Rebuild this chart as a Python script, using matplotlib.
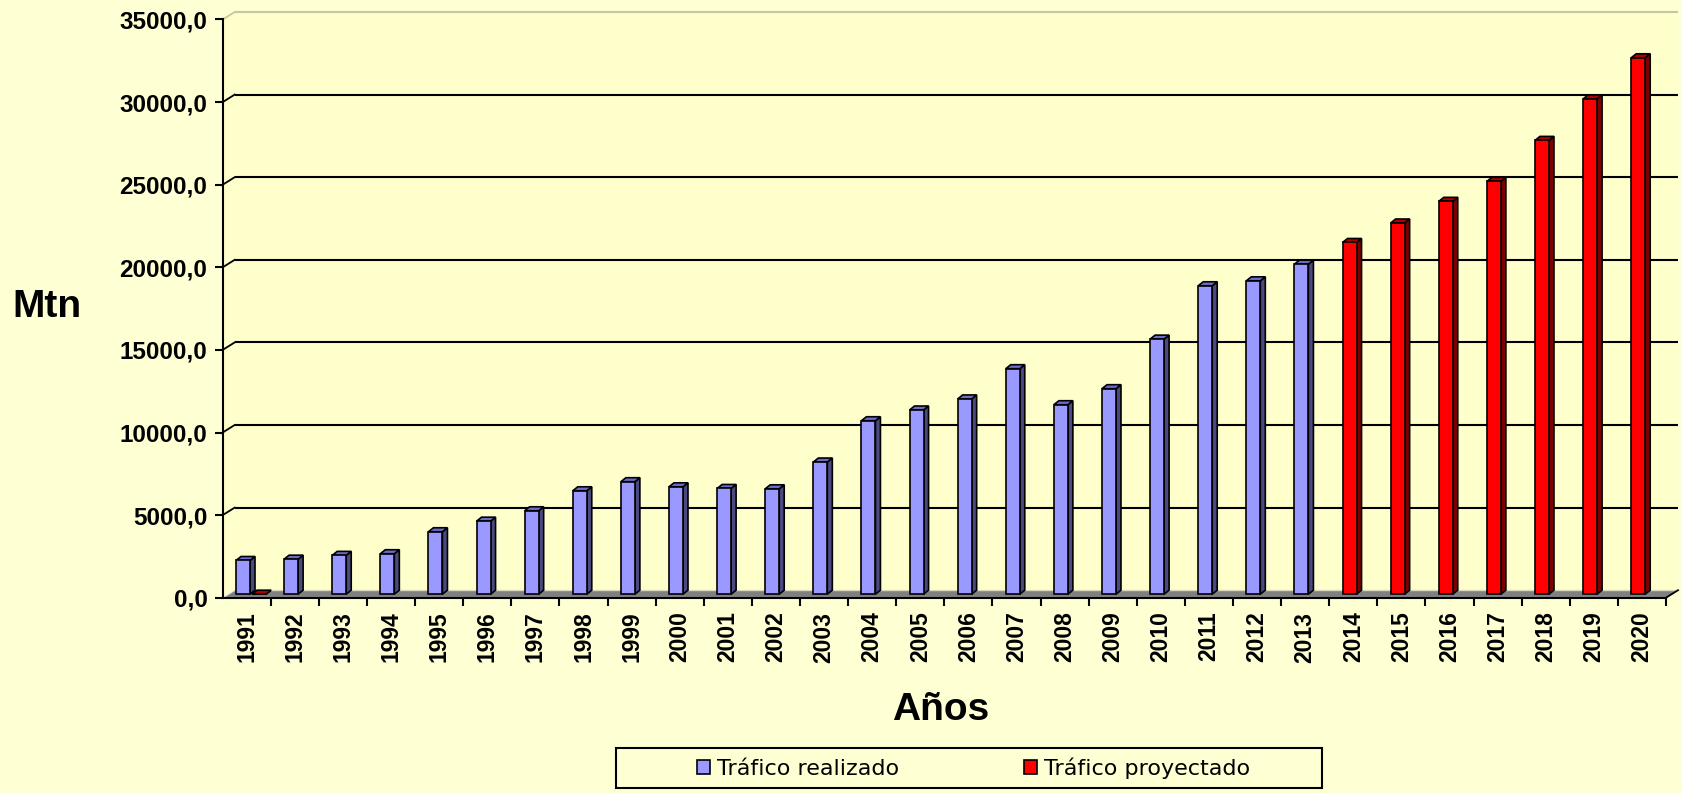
import matplotlib
matplotlib.use("Agg")
import matplotlib.pyplot as plt
import matplotlib.transforms as mtransforms
from matplotlib.patches import Polygon, Rectangle, Patch
from matplotlib.ticker import FixedLocator, FixedFormatter

# ---------------- data ----------------
years = [str(y) for y in range(1991, 2021)]
realizado_years = [str(y) for y in range(1991, 2014)]
realizado = [2040, 2120, 2350, 2450, 3780, 4420, 5050, 6260, 6810, 6500,
             6400, 6380, 8000, 10500, 11150, 11820, 13650, 11470, 12440,
             15440, 18670, 18970, 19980]
proyectado_years = ["1991", "2014", "2015", "2016", "2017", "2018", "2019", "2020"]
proyectado = [0, 21290, 22470, 23780, 24990, 27470, 29980, 32470]
y_ticks = [0, 5000, 10000, 15000, 20000, 25000, 30000, 35000]
y_tick_labels = ["0,0", "5000,0", "10000,0", "15000,0", "20000,0",
                 "25000,0", "30000,0", "35000,0"]
series_labels = ["Tráfico realizado", "Tráfico proyectado"]
x_title = "Años"
y_title = "Mtn"

# ---------------- style ----------------
W, H, DPI = 1682, 793, 100
BG = "#FFFFD4"
WALL = "#FFFFCC"
BLUE = ("#9999FF", "#6B6BCC", "#4A4A80")     # front, top, side
RED = ("#FF0000", "#B00000", "#800000")
FAM = ["Liberation Sans", "DejaVu Sans"]

fig = plt.figure(figsize=(W / DPI, H / DPI), dpi=DPI, facecolor=BG)
px_left, px_right, px_top, px_bot = 222.7, 1666.0, 19.5, 597.7
ax = fig.add_axes([px_left / W, 1 - px_bot / H, (px_right - px_left) / W,
                   (px_bot - px_top) / H])
ax.set_xlim(-0.5, len(years) - 0.5)
ax.set_ylim(0, 35000)
ax.patch.set_visible(False)

px_per_cat = (px_right - px_left) / len(years)
px_per_val = (px_bot - px_top) / 35000.0
DX = 12.0 / px_per_cat      # wall depth
DY = 7.5 / px_per_val
bdx = 5.0 / px_per_cat      # bar depth
bdy = 4.0 / px_per_val
bw = 14.0 / px_per_cat

x0, x1 = -0.5, len(years) - 0.5

# back wall + side wall
ax.add_patch(Polygon([(x0 + DX, DY), (x1 + DX, DY), (x1 + DX, 35000 + DY),
                      (x0 + DX, 35000 + DY)], closed=True, facecolor=WALL,
                     edgecolor="none", zorder=0, clip_on=False))
ax.add_patch(Polygon([(x0, 0), (x0 + DX, DY), (x0 + DX, 35000 + DY), (x0, 35000)],
                     closed=True, facecolor=WALL, edgecolor="none", zorder=0,
                     clip_on=False))

# gridlines on back wall with diagonal connectors
for v in y_ticks[1:]:
    col = "#C8C8A0" if v == y_ticks[-1] else "black"
    ax.plot([x0 + DX, x1 + DX], [v + DY, v + DY], color=col, lw=1.5,
            zorder=1, clip_on=False, solid_capstyle="butt")
    ax.plot([x0, x0 + DX], [v, v + DY], color=col, lw=1.3, zorder=1,
            clip_on=False)

# floor
ax.add_patch(Polygon([(x0, 0), (x1, 0), (x1 + DX, DY), (x0 + DX, DY)],
                     closed=True, facecolor="#808080", edgecolor="none",
                     zorder=1, clip_on=False))
ax.plot([x0 + DX, x1 + DX], [DY, DY], color="#D8D8C0", lw=1.0, zorder=1,
        clip_on=False)
ax.plot([x0, x0 + DX], [0, DY], color="#E8E8E8", lw=1.0, zorder=1, clip_on=False)
ax.plot([x1, x1 + DX], [0, DY], color="black", lw=1.3, zorder=3, clip_on=False)

# bars (mid-depth: shifted slightly up)
bar_trans = ax.transData + mtransforms.ScaledTranslation(0, 3.5 / DPI,
                                                         fig.dpi_scale_trans)


def draw_bar(xc, v, cols):
    a, b = xc - bw / 2, xc + bw / 2
    kw = dict(closed=True, edgecolor="black", lw=1.2, zorder=4,
              transform=bar_trans, clip_on=False, joinstyle="miter")
    ax.add_patch(Polygon([(b, 0), (b + bdx, bdy), (b + bdx, v + bdy), (b, v)],
                         facecolor=cols[2], **kw))
    ax.add_patch(Polygon([(a, v), (b, v), (b + bdx, v + bdy), (a + bdx, v + bdy)],
                         facecolor=cols[1], **kw))
    if v > 0:
        ax.bar([xc], [v], width=bw, facecolor=cols[0], edgecolor="black",
               lw=1.2, zorder=4, transform=bar_trans, clip_on=False)


for yr, v in zip(realizado_years, realizado):
    i = years.index(yr)
    draw_bar(i - 0.078, v, BLUE)
for yr, v in zip(proyectado_years, proyectado):
    i = years.index(yr)
    xc = i - 0.078 if v > 0 else i + 0.255
    draw_bar(xc, v, RED)

ax.set_xlim(-0.5, len(years) - 0.5)
ax.set_ylim(0, 35000)

# spines
for s in ["top", "right"]:
    ax.spines[s].set_visible(False)
for s in ["left", "bottom"]:
    ax.spines[s].set_linewidth(1.5)
    ax.spines[s].set_zorder(5)

# y axis
ax.yaxis.set_major_locator(FixedLocator(y_ticks))
ax.yaxis.set_major_formatter(FixedFormatter(y_tick_labels))
ax.tick_params(axis="y", direction="out", length=6, width=1.5, pad=5,
               labelsize=17.5)
for t in ax.get_yticklabels():
    t.set_fontfamily(FAM)
    t.set_fontweight("bold")

# x axis: ticks at boundaries, labels at centers
ax.xaxis.set_major_locator(FixedLocator([i + 0.5 for i in range(len(years))]))
ax.xaxis.set_major_formatter(FixedFormatter([""] * len(years)))
ax.xaxis.set_minor_locator(FixedLocator(list(range(len(years)))))
ax.xaxis.set_minor_formatter(FixedFormatter(years))
ax.tick_params(axis="x", which="major", direction="out", length=5.5, width=1.5)
ax.tick_params(axis="x", which="minor", length=0, pad=10, labelsize=16.5,
               labelrotation=90)
for t in ax.xaxis.get_minorticklabels():
    t.set_fontfamily(FAM)
    t.set_fontweight("bold")
    t.set_va("top")
    t.set_ha("center")

# titles
fig.text(47 / W, 1 - 307 / H, y_title, fontsize=28, fontweight="bold",
         family=FAM, ha="center", va="center")
fig.text(941 / W, 1 - 710 / H, x_title, fontsize=28, fontweight="bold",
         family=FAM, ha="center", va="center")

# legend box + legend
fig.patches.append(Rectangle((616 / W, 1 - 788 / H), (1321.7 - 616) / W,
                             40 / H, transform=fig.transFigure,
                             facecolor=BG, edgecolor="black", lw=1.5, zorder=0))
handles = [Patch(facecolor=BLUE[0], edgecolor="black", lw=1.2),
           Patch(facecolor=RED[0], edgecolor="black", lw=1.2)]
fig.legend(handles, series_labels, loc="center",
           bbox_to_anchor=(973.5 / W, 1 - 768 / H), ncol=2, frameon=False,
           prop={"family": ["DejaVu Sans"], "size": 16},
           handlelength=0.6, handleheight=0.55, handletextpad=0.3,
           columnspacing=5.6)

fig.savefig("out.png", dpi=DPI, facecolor=BG)
